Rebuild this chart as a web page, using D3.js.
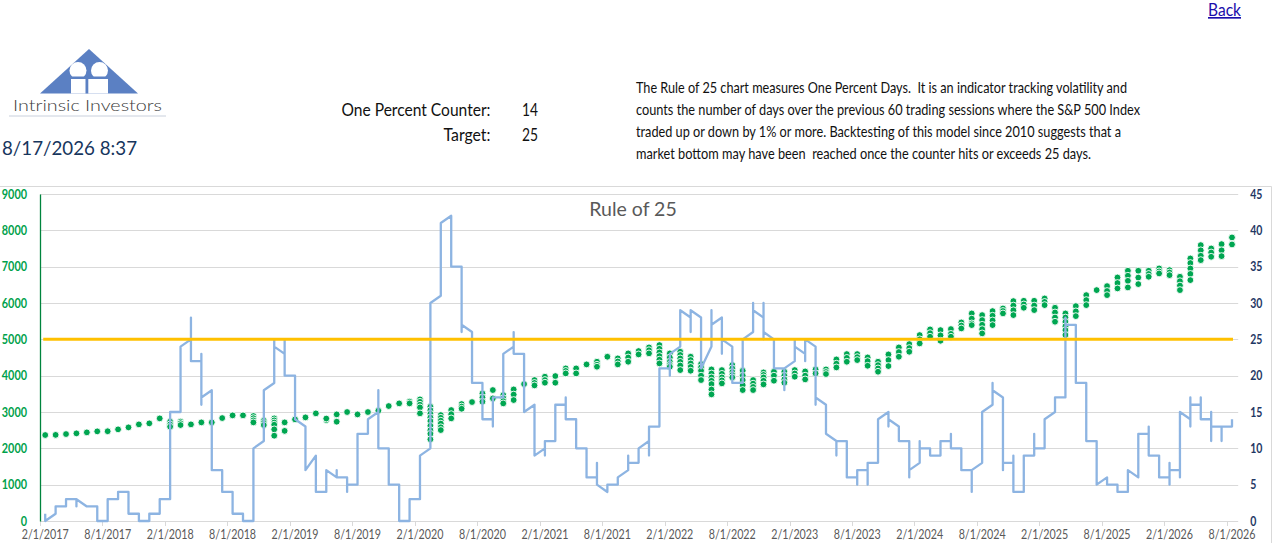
<!DOCTYPE html>
<html>
<head>
<meta charset="utf-8">
<script src="https://cdn.jsdelivr.net/npm/d3@7"></script>
<style>
  body { margin: 0; background: #fff; }
  svg { display: block; font-family: Lato, "Open Sans", sans-serif; }
  .pre { white-space: pre; }
</style>
</head>
<body>
<div id="graph"></div>
<script>
// months on the date axis (one band per month), Feb 2017 .. Aug 2026
const months = d3.timeMonth.range(new Date(2017, 1, 1), new Date(2026, 8, 1));

const tickLabels = ["2/1/2017","8/1/2017","2/1/2018","8/1/2018","2/1/2019","8/1/2019","2/1/2020",
  "8/1/2020","2/1/2021","8/1/2021","2/1/2022","8/1/2022","2/1/2023","8/1/2023","2/1/2024",
  "8/1/2024","2/1/2025","8/1/2025","2/1/2026","8/1/2026"];

// S&P 500 closes plotted within each month (left axis)
const spxValues = [
  [2366],[2370],[2393],[2412],[2439],[2467],[2470],[2522],[2577],[2659],[2687],[2824],
  [2733,2660,2595],[2733,2690,2641],[2659],[2714],[2714],[2833],[2907],[2907],
  [2889,2830,2770,2714],[2760,2700,2641],[2824,2770,2710,2650,2522,2348],[2714,2480],
  [2797],[2852],[2962],[2778,2820],[2934,2733],[2999],[2934],[2999],[3035],[3164],[3237],
  [3283,3237],[3347,3280,3200,3127,2962],[3145,3050,2950,2850,2750,2620,2500,2400,2247],
  [2916,2840,2760,2680,2580,2503],[3054,2940,2824],[3219,3150,3090],[3274],[3512,3400,3283],
  [3604,3374],[3466,3380,3300,3237],[3622,3480,3329],[3769],[3879,3800,3732],[3971,3880,3806],
  [3989,3806],[4200,4130,4062],[4200,4062],[4310],[4383,4300,4246],[4521],[4475,4390,4310],
  [4613,4500,4383],[4677,4585],[4778,4700,4613],[4842,4740,4640,4539,4440,4337],
  [4613,4500,4383,4300,4246],[4658,4570,4475,4380,4280,4154],[4521,4430,4337,4240,4136],
  [4319,4230,4136,4000,3879],[4172,4060,3952,3860,3769,3620,3485],[4154,4050,3952,3870,3787],
  [4292,4200,4100,4020,3952],[4136,4000,3879,3740,3604],[3879,3780,3690,3604],
  [4090,4020,3952,3860,3760],[4108,4000,3861],[4108,4000,3900,3806],[4154,4060,3971],
  [4117,4000,3897],[4172,4062],[4172,4100,4044],[4447,4330,4227],[4594,4490,4383],
  [4594,4510,4429],[4502,4400,4273],[4383,4290,4200,4108],[4585,4430,4264],[4778,4650,4521],
  [4869,4760,4658],[5117,5000,4887],[5273,5170,5071],[5254,5110,4961],[5282,5150,5071],
  [5465,5380,5300],[5713,5570,5438,5392],[5667,5530,5400,5280,5163],[5777,5650,5520,5392],
  [5850,5780,5713],[6052,5930,5800,5667],[6061,5960,5869],[6061,5930,5805],[6125,6030,5942],
  [5869,5740,5600,5484],[5713,5600,5480,5360,5254,5120],[5915,5770,5639],[6217,6080,5942],
  [6355],[6465,6330,6217],[6703,6550,6401],[6887,6750,6610,6428],[6887,6700,6520],
  [6887,6800,6722],[6951,6870,6813],[6905,6840,6767],[6722,6600,6480,6355],
  [7226,7100,6950,6800,6630],[7593,7450,7300,7180],[7501,7390,7272],[7620,7450,7290],
  [7804,7611]
];

// One Percent Counter readings within each month (right axis)
const counterValues = [
  [1,0],[1,2],[2,3],[3,2,3],[2],[2,0],[0,3],[3,4],[4,1],[1,0],[0,1],[1,3],
  [3,15],[15,24],[25,28,22],[22,23,16,17],[18,7],[7,4],[4,1],[1,0],[0,10],[11,18],
  [19,25,24],[23,25,20],[20,14],[13,7],[9,4],[4,7],[6,7,6],[6,4,5],[5,12],[12,14],
  [15,18,10],[10,5],[5,0],[0,3],[3,9],[10,30],[31,41],[42,35],[35,26,27],[26,19],
  [19,14],[14,13,17],[17,23],[24,26,23],[23,15],[16,9],[10,9,11],[11,16],[16,17,14],
  [14,10],[10,6],[6,8,5],[4,5],[5,6],[7,9,8],[8,10],[11,9,13],[13,21],[21,20,23],
  [24,29],[28,26,29],[28,21],[24,29,27],[28,23,25],[24,19],[19,25],[26,30,29],
  [28,30,25,26],[25,21],[21,18,21],[22,25,24],[23,22,25],[24,16,17],[16,12],[11,9,11],
  [11,6],[6,5,7],[7,5,8],[8,14],[15,13,14],[13,11],[11,6,7],[8,11,10],[10,9],[9,11],
  [11,12,10],[10,7],[7,4,7],[8,15],[16,19,18],[17,7,8],[8,9,4],[4,9],[9,12,10],[10,14],
  [15,17],[17,28,27],[27,19],[19,11],[11,5],[6,5],[5,4],[4,7],[6,12],[12,13,9],[9,6],
  [6,8,5,7],[7,6,15],[14,17,13,16],[16,17,14],[14,15,11,13],[13,11,13],[13,14]
];

const TARGET = 25;
const COUNTER = 14;

const width = 1274, height = 543;
const plotLeft = 40, plotRight = 1237.2, plotTop = 194, plotBottom = 521;

const svg = d3.select("#graph").append("svg")
  .attr("width", width).attr("height", height);

// ---- header ----
svg.append("a").attr("href", "#")
  .append("text").attr("x", 1208).attr("y", 16)
  .attr("font-size", 16.5).attr("fill", "#1a0dab").attr("text-decoration", "underline")
  .attr("textLength", 33).attr("lengthAdjust", "spacingAndGlyphs").text("Back");

// logo
const blue = "#5b80c3";
const logo = svg.append("g");
logo.append("polygon").attr("points", "40,93.5 89,49 138,93.5").attr("fill", blue);
logo.append("circle").attr("cx", 78).attr("cy", 70.5).attr("r", 8.5).attr("fill", "#fff");
logo.append("circle").attr("cx", 99.5).attr("cy", 70.5).attr("r", 8.5).attr("fill", "#fff");
logo.append("rect").attr("x", 71).attr("y", 77).attr("width", 37).attr("height", 16.5).attr("fill", "#fff");
logo.append("rect").attr("x", 71).attr("y", 76.5).attr("width", 37).attr("height", 2.5).attr("fill", blue);
logo.append("rect").attr("x", 85.5).attr("y", 76.5).attr("width", 2.8).attr("height", 17).attr("fill", blue);
logo.append("text").attr("x", 13).attr("y", 111).attr("font-size", 16).attr("font-weight", 300)
  .attr("fill", "#3a3a3a")
  .attr("textLength", 149).attr("lengthAdjust", "spacingAndGlyphs").text("Intrinsic Investors");
logo.append("line").attr("x1", 9).attr("x2", 166).attr("y1", 116).attr("y2", 116)
  .attr("stroke", "#c9d0dc").attr("stroke-width", 1);

svg.append("text").attr("x", 2).attr("y", 155).attr("font-size", 20).attr("fill", "#17365d")
  .attr("textLength", 135).attr("lengthAdjust", "spacingAndGlyphs").text("8/17/2026 8:37");

svg.append("text").attr("x", 490.5).attr("y", 115.5).attr("text-anchor", "end").attr("font-size", 16.5)
  .attr("fill", "#111").attr("textLength", 149).attr("lengthAdjust", "spacingAndGlyphs")
  .text("One Percent Counter:");
svg.append("text").attr("x", 490.5).attr("y", 140.5).attr("text-anchor", "end").attr("font-size", 16.5)
  .attr("fill", "#111").attr("textLength", 47).attr("lengthAdjust", "spacingAndGlyphs").text("Target:");
svg.append("text").attr("x", 538).attr("y", 115.5).attr("text-anchor", "end").attr("font-size", 16.5)
  .attr("fill", "#111").attr("textLength", 16).attr("lengthAdjust", "spacingAndGlyphs").text(COUNTER);
svg.append("text").attr("x", 538).attr("y", 140.5).attr("text-anchor", "end").attr("font-size", 16.5)
  .attr("fill", "#111").attr("textLength", 16).attr("lengthAdjust", "spacingAndGlyphs").text(TARGET);

const para = [
  ["The Rule of 25 chart measures One Percent Days.  It is an indicator tracking volatility and", 491],
  ["counts the number of days over the previous 60 trading sessions where the S&P 500 Index", 504],
  ["traded up or down by 1% or more. Backtesting of this model since 2010 suggests that a", 485],
  ["market bottom may have been  reached once the counter hits or exceeds 25 days.", 455]
];
svg.selectAll(".para").data(para).enter().append("text")
  .attr("class", "para pre").attr("x", 636).attr("y", (d, i) => 93 + i * 22)
  .attr("font-size", 15).attr("fill", "#111")
  .attr("textLength", d => d[1]).attr("lengthAdjust", "spacingAndGlyphs")
  .text(d => d[0]);

// chart frame
svg.append("line").attr("x1", 0).attr("x2", 1271.5).attr("y1", 186.5).attr("y2", 186.5)
  .attr("stroke", "#d9d9d9");
svg.append("line").attr("x1", 1271.5).attr("x2", 1271.5).attr("y1", 186.5).attr("y2", height)
  .attr("stroke", "#d9d9d9");

// ---- scales ----
const x = d3.scaleBand().domain(months.map(d => +d)).range([plotLeft, plotRight]).padding(0);
const xc = d => x(+d) + x.bandwidth() / 2;
const yL = d3.scaleLinear().domain([0, 9000]).range([plotBottom, plotTop]);
const yR = d3.scaleLinear().domain([0, 45]).range([plotBottom, plotTop]);

// gridlines
svg.append("g").selectAll("line").data(yL.ticks(9).filter(d => d > 0)).enter().append("line")
  .attr("x1", plotLeft).attr("x2", plotRight + 1).attr("y1", d => Math.round(yL(d)) + 0.5)
  .attr("y2", d => Math.round(yL(d)) + 0.5).attr("stroke", "#d9d9d9");

svg.append("text").attr("x", 633).attr("y", 216).attr("text-anchor", "middle")
  .attr("font-size", 19.5).attr("fill", "#595959").text("Rule of 25");

// x axis
const tickMonths = months.filter(d => d.getMonth() === 1 || d.getMonth() === 7);
svg.append("line").attr("x1", plotLeft).attr("x2", plotRight + 1).attr("y1", plotBottom + 0.5).attr("y2", plotBottom + 0.5)
  .attr("stroke", "#d9d9d9");
svg.append("g").selectAll("line").data(tickMonths).enter().append("line")
  .attr("x1", d => Math.round(x(+d)) + 0.5).attr("x2", d => Math.round(x(+d)) + 0.5)
  .attr("y1", plotBottom).attr("y2", plotBottom + 5).attr("stroke", "#d9d9d9");

const xAxis = d3.axisBottom(x).tickValues(tickMonths.map(d => +d))
  .tickFormat((d, i) => tickLabels[i]).tickSize(0).tickPadding(9);
const gx = svg.append("g").attr("transform", "translate(0," + plotBottom + ")").call(xAxis);
gx.select(".domain").remove();
gx.selectAll("text").attr("font-size", 13).attr("fill", "#595959").attr("font-family", "Lato")
  .attr("textLength", 47).attr("lengthAdjust", "spacingAndGlyphs");

// left axis
const gl = svg.append("g").attr("transform", "translate(" + plotLeft + ",0)")
  .call(d3.axisLeft(yL).tickValues(d3.range(0, 9001, 1000)).tickSize(0).tickPadding(13).tickFormat(d3.format("d")));
gl.select(".domain").attr("stroke", "#00843d").attr("stroke-width", 1.3);
gl.selectAll("text").attr("font-size", 13).attr("font-weight", "bold").attr("fill", "#00a14b")
  .attr("font-family", "Lato")
  .attr("textLength", d => String(d).length * 6.3).attr("lengthAdjust", "spacingAndGlyphs");

// right axis
const gr = svg.append("g").attr("transform", "translate(" + (plotRight + 1) + ",0)")
  .call(d3.axisRight(yR).tickValues(d3.range(0, 46, 5)).tickSize(0).tickPadding(12));
gr.select(".domain").remove();
gr.selectAll("text").attr("font-size", 13).attr("font-weight", "bold").attr("fill", "#1f3864")
  .attr("font-family", "Lato")
  .attr("textLength", d => String(d).length * 6.1).attr("lengthAdjust", "spacingAndGlyphs");

// ---- S&P dots ----
const dots = [];
spxValues.forEach((vals, i) => vals.forEach(v => dots.push([months[i], v])));
svg.append("g").selectAll("circle").data(dots).enter().append("circle")
  .attr("cx", d => xc(d[0])).attr("cy", d => yL(d[1])).attr("r", 3.4)
  .attr("fill", "#00a651").attr("stroke", "#fff").attr("stroke-width", 0.9);

// ---- counter line ----
const pts = [];
counterValues.forEach((vals, i) => vals.forEach(v => pts.push([months[i], v])));
svg.append("path").datum(pts)
  .attr("d", d3.line().x(d => xc(d[0])).y(d => yR(d[1])))
  .attr("fill", "none").attr("stroke", "#8db4e2").attr("stroke-width", 2.3)
  .attr("stroke-linejoin", "round");

// ---- target line ----
svg.append("line")
  .attr("x1", xc(months[0]) - 2).attr("x2", xc(months[months.length - 1]) + 1)
  .attr("y1", yR(TARGET)).attr("y2", yR(TARGET))
  .attr("stroke", "#ffc000").attr("stroke-width", 3);
</script>
</body>
</html>
